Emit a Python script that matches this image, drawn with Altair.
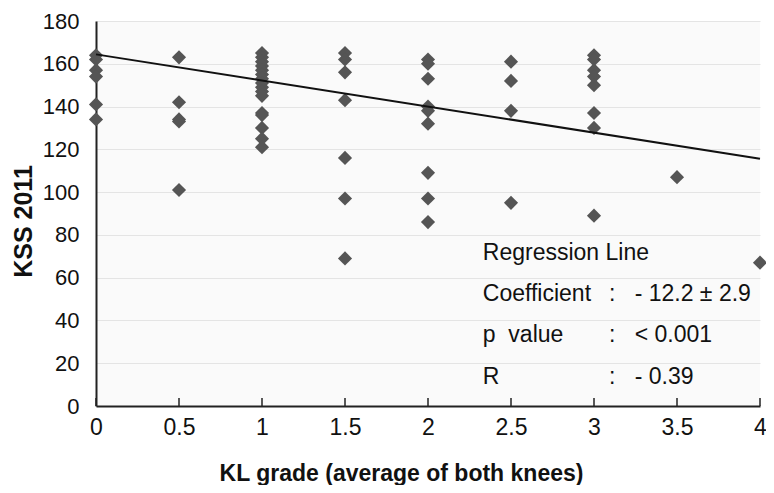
import altair as alt
import pandas as pd

# KL grade (average of both knees) and KSS 2011 values
kl_0 = [164, 162, 157, 154, 141, 134]
kl_05 = [163, 142, 134, 133, 101]
kl_1 = [165, 163, 161, 159, 157, 155, 153, 151, 149, 147, 145, 137, 136, 130, 125, 121]
kl_15 = [165, 162, 156, 143, 116, 97, 69]
kl_2 = [162, 160, 153, 140, 138, 132, 109, 97, 86]
kl_25 = [161, 152, 138, 95]
kl_3 = [164, 162, 157, 154, 150, 137, 130, 89]
kl_35 = [107]
kl_4 = [67]

grades = [0, 0.5, 1, 1.5, 2, 2.5, 3, 3.5, 4]
groups = [kl_0, kl_05, kl_1, kl_15, kl_2, kl_25, kl_3, kl_35, kl_4]

reg_x = [0, 4]
reg_y = [164.4, 115.6]

x_ticks = [0, 0.5, 1, 1.5, 2, 2.5, 3, 3.5, 4]
y_ticks = [0, 20, 40, 60, 80, 100, 120, 140, 160, 180]

ann_labels = ["Regression Line", "Coefficient", "p\u00a0\u00a0value", "R"]
ann_values = ["", "- 12.2 ± 2.9", "< 0.001", "- 0.39"]

pts = pd.DataFrame(
    [{"kl": g, "kss": v} for g, vals in zip(grades, groups) for v in vals]
)
reg = pd.DataFrame({"kl": reg_x, "kss": reg_y})
ticks = pd.DataFrame({"kl": x_ticks})

FONT = "Liberation Sans"
W, H = 664, 385

xscale = alt.Scale(domain=[0, 4], nice=False, zero=False)
yscale = alt.Scale(domain=[0, 180], nice=False)

points = alt.Chart(pts).mark_point(
    shape="diamond", filled=True, size=200, color="#555555", opacity=1
).encode(
    x=alt.X("kl:Q", scale=xscale,
            axis=alt.Axis(values=x_ticks, format="~g", title="KL grade (average of both knees)",
                          grid=False, ticks=False, domainColor="#222222", domainWidth=2,
                          labelFont=FONT, labelFontSize=23, labelColor="#111111",
                          labelPadding=10, labelFlush=False,
                          titleFont=FONT, titleFontSize=23,
                          titleFontWeight="bold", titleColor="#111111",
                          titleX=305, titleY=74, titleBaseline="alphabetic", titleAlign="center")),
    y=alt.Y("kss:Q", scale=yscale,
            axis=alt.Axis(values=y_ticks, title="KSS 2011", grid=True, gridColor="#e4e4e4",
                          gridWidth=1, ticks=False, domainColor="#222222", domainWidth=2,
                          labelFont=FONT, labelFontSize=22, labelColor="#111111",
                          labelPadding=17, labelFlush=False,
                          titleFont=FONT, titleFontSize=25,
                          titleFontWeight="bold", titleColor="#111111",
                          titleX=-73, titleY=200, titleBaseline="middle", titleAlign="center",
                          titleAngle=270)),
)

line = alt.Chart(reg).mark_line(color="#111111", strokeWidth=2).encode(
    x=alt.X("kl:Q", scale=xscale), y=alt.Y("kss:Q", scale=yscale)
)

tick_rules = alt.Chart(ticks).mark_rule(color="#222222", strokeWidth=1.5).encode(
    x=alt.X("kl:Q", scale=xscale), y=alt.value(H), y2=alt.value(H - 8)
)

ann_y = [71.5, 52.5, 33.2, 13.5]
text_layers = []
for lab, val, yy in zip(ann_labels, ann_values, ann_y):
    text_layers.append(
        alt.Chart().mark_text(align="left", baseline="middle", font=FONT, fontSize=23,
                              color="#111111").encode(
            x=alt.datum(2.33, scale=xscale), y=alt.datum(yy, scale=yscale), text=alt.datum(lab))
    )
    if val:
        text_layers.append(
            alt.Chart().mark_text(align="center", baseline="middle", font=FONT, fontSize=23,
                                  color="#111111").encode(
                x=alt.datum(3.11, scale=xscale), y=alt.datum(yy, scale=yscale), text=alt.datum(":"))
        )
        text_layers.append(
            alt.Chart().mark_text(align="left", baseline="middle", font=FONT, fontSize=23,
                                  color="#111111").encode(
                x=alt.datum(3.245, scale=xscale), y=alt.datum(yy, scale=yscale), text=alt.datum(val))
        )

chart = alt.layer(points, line, tick_rules, *text_layers).properties(
    width=W, height=H,
    autosize=alt.AutoSizeParams(type="none"),
    padding={"left": 88, "top": 13, "right": 6, "bottom": 79},
    background="white",
).configure_view(fill="#fafafa", stroke=None)

chart.save("out.html", embed_options={"renderer": "svg", "actions": False})
